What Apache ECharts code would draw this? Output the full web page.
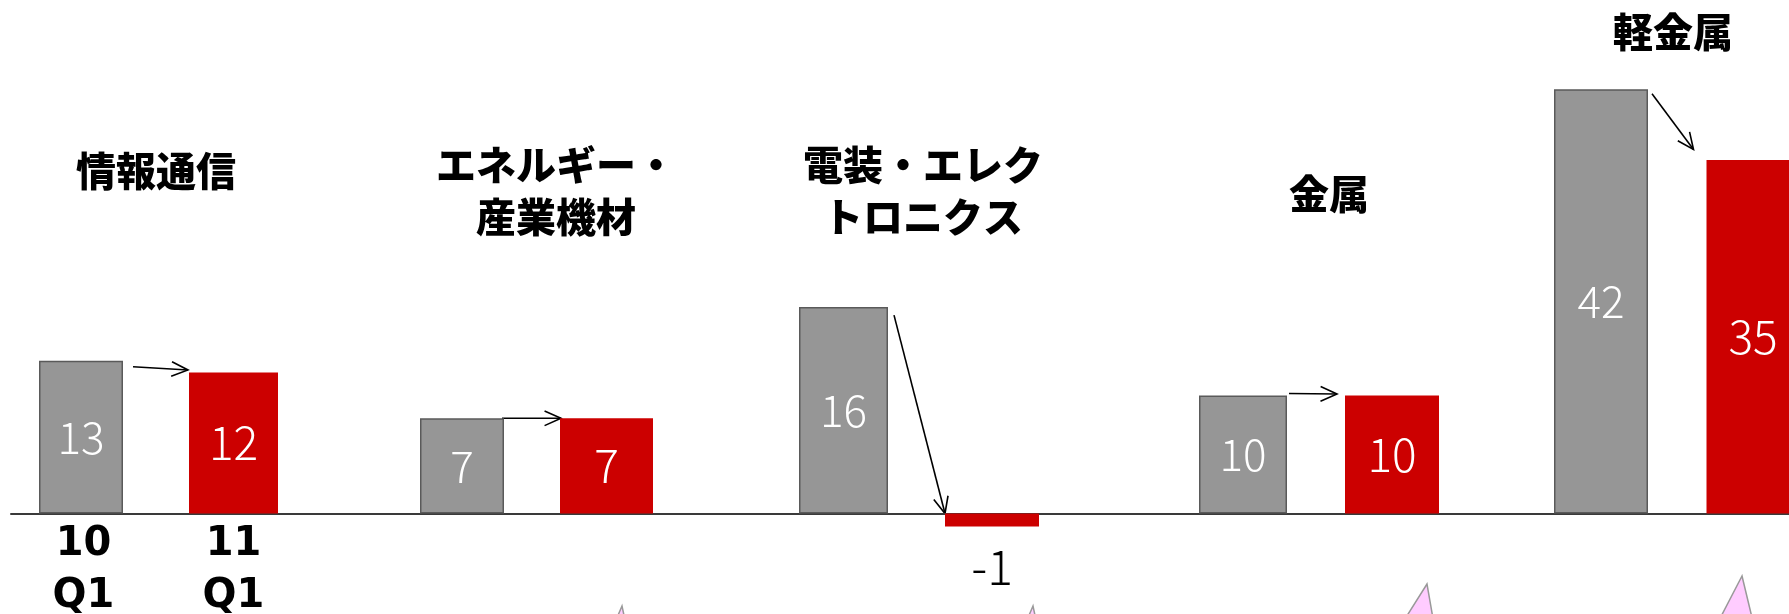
<!DOCTYPE html>
<html><head><meta charset="utf-8">
<script src="https://cdn.jsdelivr.net/npm/echarts@6/dist/echarts.min.js"></script>
<style>html,body{margin:0;padding:0;background:#fff}#c{width:1789px;height:614px}</style>
</head><body><div id="c"></div>
<script>
// ---- data ----
const groups = ['情報通信', 'エネルギー・\n産業機材', '電装・エレク\nトロニクス', '金属', '軽金属'];
const periods = ['10\nQ1', '11\nQ1'];
const q1_2010 = [13, 7, 16, 10, 42];
const q1_2011 = [12, 7, -1, 10, 35];

// ---- layout (pixels) ----
const W = 1789, H = 614, BASE = 513.5;
const grayCenters = [81, 462, 843.5, 1243, 1601];
const redCenters = [233.5, 606.5, 992, 1392, 1753];
const grayW = [84, 84, 89, 88, 94];
const redW = [89, 93, 94, 94, 93];
const pxPerUnit = [11.75, 13.6, 12.9, 11.8, 10.1];
const titlePos = [[156, 171], [556, 191], [923, 191], [1329, 194], [1673, 32]];
const arrowOff = [[10, 6, -1, -2.5], [-2, 0, 1, 0], [6, 8, 0, 0], [2, -2, -8, -1.5], [4, 4.5, -13, -10.5]];
const FONT = '"Noto Sans CJK JP", "Noto Sans", sans-serif';

const grids = [], xAxes = [], yAxes = [], series = [];
groups.forEach((g, i) => {
  // gray bar is offset by (redW-grayW)/2 due to barGap -100% layout
  const c0 = grayCenters[i] + (redW[i] - grayW[i]) / 2;
  const c1 = redCenters[i];
  const w = 2 * (c1 - c0);
  grids.push({ left: c0 - w / 4, top: 0, width: w, height: BASE, containLabel: false, outerBoundsMode: 'none' });
  xAxes.push({
    type: 'category', gridIndex: i, data: periods, position: 'bottom',
    axisLine: { show: false },
    axisTick: { show: false },
    axisLabel: {
      show: i === 0, fontSize: 40, fontWeight: 'bold', color: '#000', fontFamily: '"DejaVu Sans", sans-serif',
      lineHeight: 52, margin: 5, interval: 0
    }
  });
  const s = pxPerUnit[i];
  yAxes.push({ type: 'value', gridIndex: i, min: 0, max: BASE / s, show: false, splitLine: { show: false } });
  series.push({
    type: 'bar', xAxisIndex: i, yAxisIndex: i, barWidth: grayW[i], barGap: '-100%', clip: false,
    data: [q1_2010[i], '-'],
    itemStyle: { color: '#969696', borderColor: '#5a5a5a', borderWidth: 1.5 },
    label: { show: true, position: 'inside', color: '#fff', fontSize: 44, fontWeight: 300, fontFamily: FONT },
    silent: true, animation: false
  });
  series.push({
    type: 'bar', xAxisIndex: i, yAxisIndex: i, barWidth: redW[i], barGap: '-100%', clip: false,
    data: ['-', q1_2011[i]].map(v => (typeof v === 'number' && v < 0)
      ? { value: v, label: { position: 'bottom', color: '#000', fontSize: 48, distance: 16 } }
      : v),
    itemStyle: { color: '#cc0000' },
    label: { show: true, position: 'inside', color: '#fff', fontSize: 46, fontWeight: 300, fontFamily: FONT },
    silent: true, animation: false
  });
});
// full-width baseline
const bi = groups.length;
grids.push({ left: 11, right: 0, top: 0, height: BASE, outerBoundsMode: 'none' });
xAxes.push({ type: 'value', gridIndex: bi, min: 0, max: 1, axisLine: { show: true, onZero: false, lineStyle: { color: '#3a3a3a', width: 2 } },
  axisTick: { show: false }, axisLabel: { show: false }, splitLine: { show: false } });
yAxes.push({ type: 'value', gridIndex: bi, min: 0, max: 1, show: false, splitLine: { show: false } });

const chart = echarts.init(document.getElementById('c'), null, { renderer: 'canvas' });
chart.setOption({ animation: false, backgroundColor: '#fff', grid: grids, xAxis: xAxes, yAxis: yAxes, series: series });

// ---- graphics: titles, arrows, decorative triangles ----
const graphics = [];
groups.forEach((g, i) => {
  graphics.push({ type: 'text', x: titlePos[i][0], y: titlePos[i][1], silent: true,
    style: { text: g, fill: '#000', font: '900 40px ' + FONT, align: 'center', verticalAlign: 'middle', lineHeight: 52 } });
  const pg = chart.convertToPixel({ xAxisIndex: i, yAxisIndex: i }, [0, q1_2010[i]]);
  const pr = chart.convertToPixel({ xAxisIndex: i, yAxisIndex: i }, [1, Math.max(q1_2011[i], 0)]);
  const grayRight = pg[0] - redW[i] / 2 + grayW[i];
  const redLeft = pr[0] - redW[i] / 2;
  const o = arrowOff[i];
  const x1 = grayRight + o[0], y1 = pg[1] + o[1], x2 = redLeft + o[2], y2 = pr[1] + o[3];
  const ang = Math.atan2(y2 - y1, x2 - x1), L = 18, a = 0.42;
  graphics.push({ type: 'line', silent: true, shape: { x1, y1, x2, y2 }, style: { stroke: '#000', lineWidth: 1.6 } });
  graphics.push({ type: 'polyline', silent: true, shape: { points: [
      [x2 - L * Math.cos(ang - a), y2 - L * Math.sin(ang - a)], [x2, y2],
      [x2 - L * Math.cos(ang + a), y2 - L * Math.sin(ang + a)]] },
    style: { stroke: '#000', lineWidth: 1.6, fill: null } });
});
const tri = [
  [[622, 606], [616, 620], [625, 620]],
  [[1033, 606], [1027, 620], [1036, 620]],
  [[1427, 584], [1398, 630], [1435, 630]],
  [[1742, 576], [1714, 630], [1755, 630]]
];
tri.forEach(p => graphics.push({ type: 'polygon', silent: true, shape: { points: p },
  style: { fill: '#ffccff', stroke: '#999', lineWidth: 1.5 } }));
chart.setOption({ graphic: graphics });
</script></body></html>
